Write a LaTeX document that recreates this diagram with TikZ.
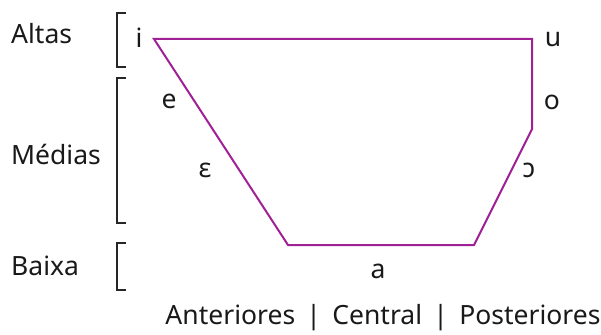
\documentclass[tikz,border=0pt]{standalone}
\usepackage{fontspec}
\setmainfont{Noto Sans}
\usepackage{tikz}
\usetikzlibrary{positioning}
\definecolor{chartpurple}{RGB}{160,32,150}

\begin{document}
\begin{tikzpicture}[
      x=1pt, y=-1pt,
      chart/.style={draw=chartpurple, line width=2pt, line join=miter},
      brace/.style={draw=black!85, line width=1.6pt},
      vowel/.style={font=\fontsize{26.5}{26.5}\selectfont, text=black!90, inner sep=0pt},
      height/.style={font=\fontsize{26.5}{26.5}\selectfont, text=black!90, inner sep=0pt},
    ]
    \useasboundingbox (0,0) rectangle (601,334);
    % corners of the vowel chart
    \coordinate (ti) at (154,39);
    \coordinate (tu) at (532,39);
    \coordinate (mo) at (532,129);
    \coordinate (ba) at (474,245);
    \coordinate (bl) at (288,245);
    \draw[chart] (ti) -- (tu) -- (mo) -- (ba) -- (bl) -- cycle;
    % vowels
    \node[vowel] (i) at (139,38) {i};
    \node[vowel] (u) at (553,40) {u};
    \node[vowel] (e) at (169,101) {e};
    \node[vowel] (o) at (552,102) {o};
    \node[vowel] (eps) at (205,170) {ɛ};
    \node[vowel] (opn) at (529,170) {ɔ};
    \node[vowel] (a) at (378,271) {a};
    % heights
    \node[height, anchor=west] (altas) at (11,34) {Altas};
    \node[height, anchor=west] (medias) at (11,154) {Médias};
    \node[height, anchor=west] (baixa) at (11,266) {Baixa};
    \draw[brace] (126,13) -| (117,67) -- (126,67);
    \draw[brace] (126,78) -| (117,223) -- (126,223);
    \draw[brace] (126,243) -| (117,290) -- (126,290);
    % backness
    \node[height] (back) at (383,318) {Anteriores \,|\, Central \,|\, Posteriores};
  \end{tikzpicture}
\end{document}
